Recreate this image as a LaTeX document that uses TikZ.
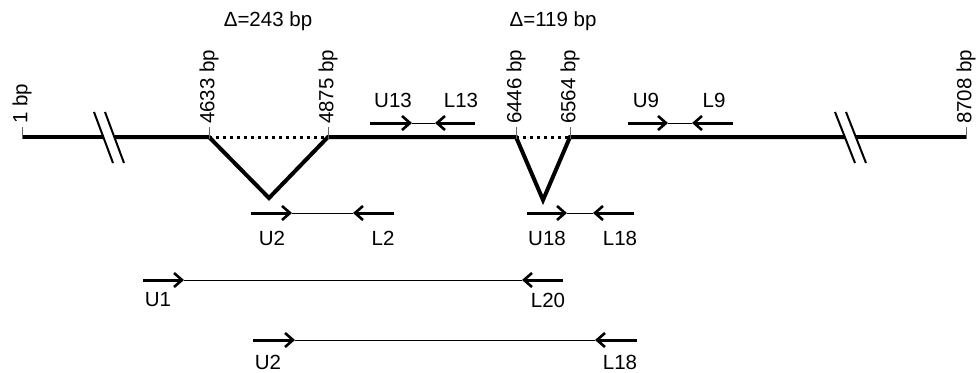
\documentclass[tikz,border=0pt]{standalone}
\usepackage{fontspec}
\setmainfont{Liberation Sans}
\usetikzlibrary{arrows.meta}
\begin{document}
\begin{tikzpicture}[x=1pt,y=-1pt,
  font=\fontsize{20.5}{24}\selectfont,
  gene/.style={line width=4pt, line join=miter},
  gap/.style={line width=3pt, dash pattern=on 2.6pt off 4.4pt},
  brk/.style={line width=2pt},
  tickline/.style={line width=0.8pt, black!60},
  primer/.style={line width=3pt, -{Straight Barb[length=8pt,width=14pt,line width=2.6pt]}},
  link/.style={line width=0.8pt},
  lab/.style={inner sep=0pt},
  poslab/.style={rotate=90, anchor=west, inner sep=0pt}]
\useasboundingbox (0,0) rectangle (976,372);

% positions on the genome line
\coordinate (s) at (22,137);
\coordinate (b1l) at (103.5,137);
\coordinate (b1r) at (114.5,137);
\coordinate (p4633) at (209,137);
\coordinate (v1) at (269,198);
\coordinate (p4875) at (328,137);
\coordinate (p6446) at (516,137);
\coordinate (v2) at (543,200);
\coordinate (p6564) at (570,137);
\coordinate (b2l) at (845,137);
\coordinate (b2r) at (856,137);
\coordinate (e) at (966,137);

% genome line
\draw[gene] (s) -- (b1l);
\draw[gene] (b1r) -- (p4633) -- (v1) -- (p4875) -- (p6446) -- (v2) -- (p6564) -- (b2l);
\draw[gene] (b2r) -- (e);
\draw[gap] (p4633) -- (p4875);
\draw[gap] (p6446) -- (p6564);

% break marks
\coordinate (k1a) at (94,112);   \coordinate (k1b) at (113,163);
\coordinate (k2a) at (105,112);  \coordinate (k2b) at (124,163);
\coordinate (k3a) at (835,112);  \coordinate (k3b) at (855,163);
\coordinate (k4a) at (846,112);  \coordinate (k4b) at (866,163);
\draw[brk] (k1a) -- (k1b);
\draw[brk] (k2a) -- (k2b);
\draw[brk] (k3a) -- (k3b);
\draw[brk] (k4a) -- (k4b);

% ticks and position labels
\foreach \p/\t in {s/1 bp, p4633/4633 bp, p4875/4875 bp, p6446/6446 bp, p6564/6564 bp, e/8708 bp}{
  \coordinate (\p-top) at ([yshift=10pt]\p);
  \draw[tickline] ([yshift=-2pt]\p) -- (\p-top);
  \node[poslab] (\p-lab) at ([yshift=3pt]\p-top) {\t};
}
\node[lab] (d1) at (268,21) {Δ=243 bp};
\node[lab] (d2) at (553,21) {Δ=119 bp};

% primer pair U13/L13
\coordinate (u13s) at (370,123); \coordinate (u13t) at (412,123);
\coordinate (l13t) at (435,123); \coordinate (l13s) at (475,123);
\draw[link] (u13t) -- (l13t);
\draw[primer] (u13s) -- (u13t);
\draw[primer] (l13s) -- (l13t);
\node[lab] (tu13) at (393,100) {U13};
\node[lab] (tl13) at (461,100) {L13};

% primer pair U9/L9
\coordinate (u9s) at (628,123); \coordinate (u9t) at (668,123);
\coordinate (l9t) at (692,123); \coordinate (l9s) at (733,123);
\draw[link] (u9t) -- (l9t);
\draw[primer] (u9s) -- (u9t);
\draw[primer] (l9s) -- (l9t);
\node[lab] (tu9) at (646,100) {U9};
\node[lab] (tl9) at (714,100) {L9};

% primer pair U2/L2
\coordinate (u2s) at (251,213); \coordinate (u2t) at (292,213);
\coordinate (l2t) at (353,213); \coordinate (l2s) at (394,213);
\draw[link] (u2t) -- (l2t);
\draw[primer] (u2s) -- (u2t);
\draw[primer] (l2s) -- (l2t);
\node[lab] (tu2) at (272,238) {U2};
\node[lab] (tl2) at (383,238) {L2};

% primer pair U18/L18
\coordinate (u18s) at (527,213); \coordinate (u18t) at (567,213);
\coordinate (l18t) at (593,213); \coordinate (l18s) at (634,213);
\draw[link] (u18t) -- (l18t);
\draw[primer] (u18s) -- (u18t);
\draw[primer] (l18s) -- (l18t);
\node[lab] (tu18) at (547,238) {U18};
\node[lab] (tl18) at (620,238) {L18};

% primer pair U1/L20
\coordinate (u1s) at (143,280); \coordinate (u1t) at (184,280);
\coordinate (l20t) at (522,280); \coordinate (l20s) at (563,280);
\draw[link] (u1t) -- (l20t);
\draw[primer] (u1s) -- (u1t);
\draw[primer] (l20s) -- (l20t);
\node[lab] (tu1) at (158,300) {U1};
\node[lab] (tl20) at (548,300) {L20};

% primer pair U2/L18 (long)
\coordinate (u2bs) at (253,340); \coordinate (u2bt) at (295,340);
\coordinate (l18bt) at (595,340); \coordinate (l18bs) at (637,340);
\draw[link] (u2bt) -- (l18bt);
\draw[primer] (u2bs) -- (u2bt);
\draw[primer] (l18bs) -- (l18bt);
\node[lab] (tu2b) at (268,362) {U2};
\node[lab] (tl18b) at (620,362) {L18};
\end{tikzpicture}
\end{document}
